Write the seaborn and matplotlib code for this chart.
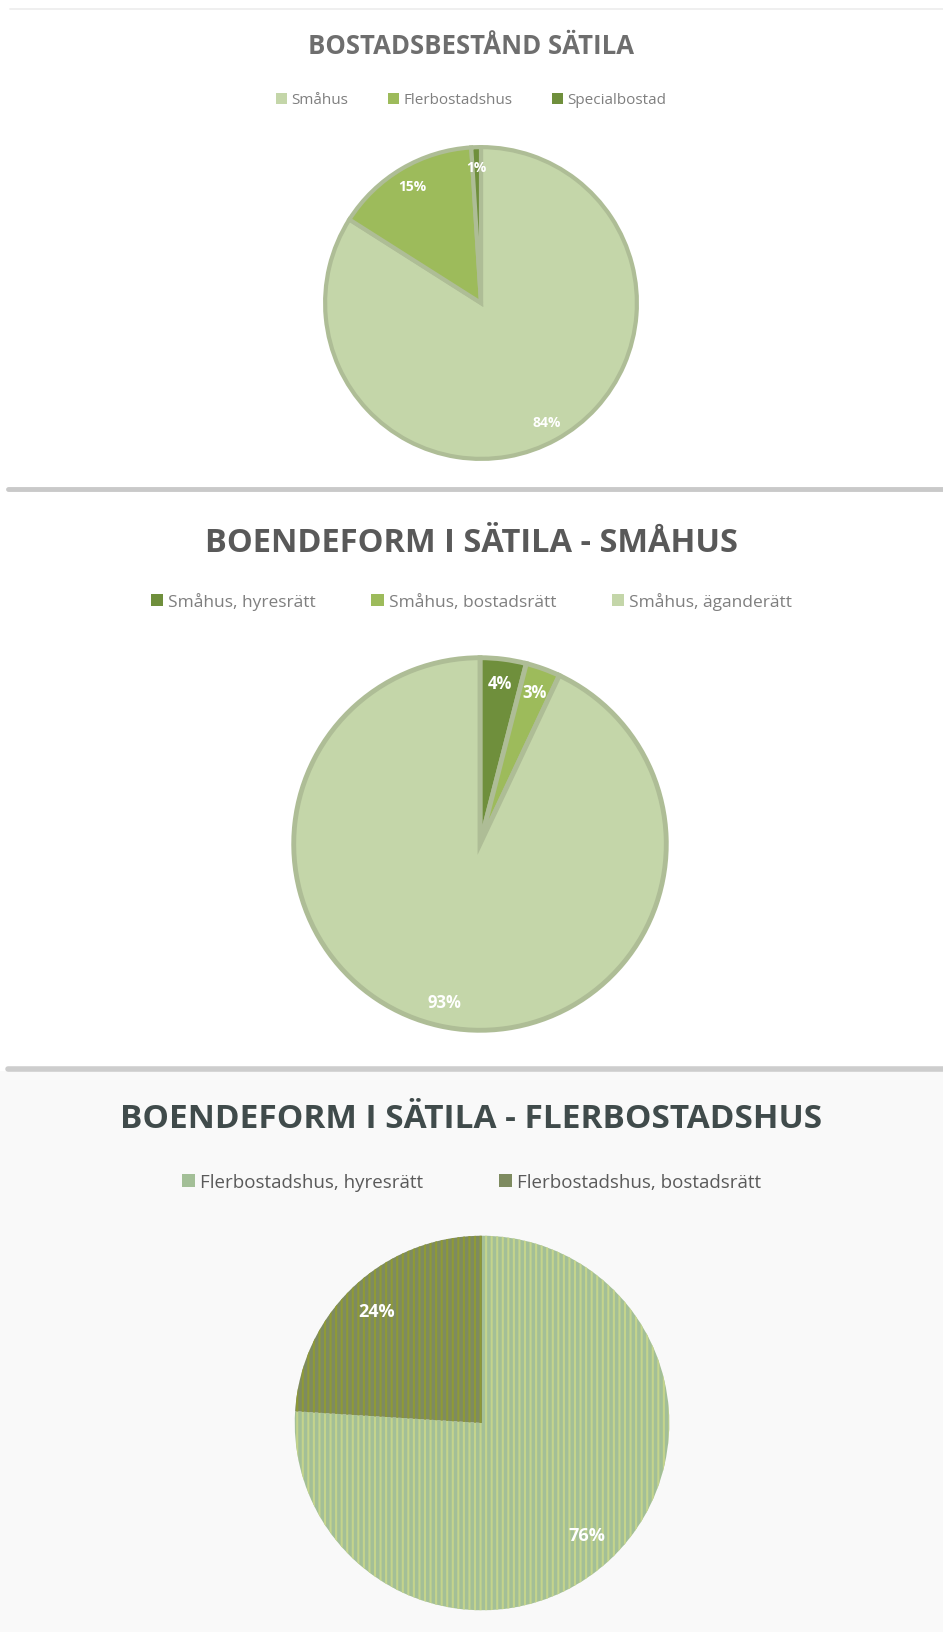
import matplotlib
matplotlib.use('Agg')
import matplotlib.pyplot as plt
import matplotlib.patches as mpatches
import matplotlib.lines as mlines
import seaborn as sns

# data
bestand_labels = ['Småhus', 'Flerbostadshus', 'Specialbostad']
bestand_values = [84, 15, 1]
smahus_labels = ['Småhus, hyresrätt', 'Småhus, bostadsrätt', 'Småhus, äganderätt']
smahus_values = [4, 3, 93]
flerbo_labels = ['Flerbostadshus, hyresrätt', 'Flerbostadshus, bostadsrätt']
flerbo_values = [76, 24]

titles = ['BOSTADSBESTÅND SÄTILA',
          'BOENDEFORM I SÄTILA - SMÅHUS',
          'BOENDEFORM I SÄTILA - FLERBOSTADSHUS']

sns.set_theme(style='white')
plt.rcParams['font.family'] = ['Open Sans', 'DejaVu Sans']
plt.rcParams['hatch.linewidth'] = 1.5

W, H = 943, 1633
fig = plt.figure(figsize=(W / 100, H / 100), dpi=100)
fig.patch.set_facecolor('white')


def fx(x):
    return x / W


def fy(y):
    return 1 - y / H


def pie_axes(cx, cy, r):
    ax = fig.add_axes([fx(cx - r), fy(cy + r), 2 * r / W, 2 * r / H])
    ax.axis('off')
    return ax


def fix_limits(ax):
    # pie() resets the limits to +-1.25, so set them again afterwards
    ax.set_xlim(-1.02, 1.02)
    ax.set_ylim(-1.02, 1.02)
    ax.set_aspect('equal')


def legend(labels, colors, y, size, gap, color='#7f7f7f'):
    handles = [mpatches.Patch(facecolor=c, edgecolor='none', label=l) for l, c in zip(labels, colors)]
    fig.legend(handles=handles, loc='center', bbox_to_anchor=(0.5, fy(y)), ncol=len(labels),
               frameon=False, fontsize=size, handlelength=0.7, handleheight=0.7,
               handletextpad=0.3, columnspacing=gap, labelcolor=color)


# panel 3 background + separators
fig.add_artist(mpatches.Rectangle((0, 0), 1, fy(1072), transform=fig.transFigure,
                                  facecolor='#f9f9f9', edgecolor='none', zorder=0))
fig.add_artist(mlines.Line2D([fx(10), 1], [fy(10), fy(10)], color='#ececec', lw=1.2))
fig.add_artist(mlines.Line2D([fx(8), 1], [fy(490), fy(490)], color='#c9c9c9', lw=3.5))
fig.add_artist(mlines.Line2D([fx(8), 1], [fy(1070), fy(1070)], color='#cdcdcd', lw=4))

# --- panel 1
c1 = ['#c4d6a9', '#9dbb5b', '#6f8f3c']
fig.text(0.5, fy(47), titles[0], ha='center', va='center', fontsize=18.5,
         fontweight='bold', color='#6e6e6e')
legend(bestand_labels, c1, 101, 11, 2.6)
ax1 = pie_axes(481, 304, 159)
ax1.pie(bestand_values, colors=c1, startangle=90, counterclock=False,
        autopct='%1.0f%%', pctdistance=0.87,
        wedgeprops=dict(edgecolor='#aebd96', linewidth=3),
        textprops=dict(color='white', fontsize=10, fontweight='bold'))
fix_limits(ax1)

# --- panel 2
c2 = ['#6f8f3c', '#9dbb5b', '#c4d6a9']
fig.text(0.5, fy(543), titles[1], ha='center', va='center', fontsize=23.5,
         fontweight='bold', color='#595959')
legend(smahus_labels, c2, 602, 12.5, 3.2)
ax2 = pie_axes(480, 845, 190)
ax2.pie(smahus_values, colors=c2, startangle=90, counterclock=False,
        autopct='%1.0f%%', pctdistance=0.87,
        wedgeprops=dict(edgecolor='#aebd96', linewidth=3.5),
        textprops=dict(color='white', fontsize=12, fontweight='bold'))
fix_limits(ax2)

# --- panel 3 (striped fills)
c3 = ['#a3bf97', '#7e8b60']
h3 = ['#c4d48c', '#8f9a36']
fig.text(0.5, fy(1120), titles[2], ha='center', va='center', fontsize=24,
         fontweight='bold', color='#404b4b')
legend(flerbo_labels, c3, 1183, 13.5, 4.0, color='#5a5a5a')
ax3 = pie_axes(482, 1424, 191)
w3, t3, a3 = ax3.pie(flerbo_values, colors=c3, startangle=90, counterclock=False,
                     autopct='%1.0f%%', pctdistance=0.82,
                     wedgeprops=dict(linewidth=0),
                     textprops=dict(color='white', fontsize=13, fontweight='bold'))
for w, hc in zip(w3, h3):
    w.set_hatch('|||')
    w.set_edgecolor(hc)
    w.set_linewidth(0)
for t in a3:
    t.set_zorder(5)
fix_limits(ax3)

fig.savefig('out.png', dpi=100, facecolor=fig.get_facecolor())
